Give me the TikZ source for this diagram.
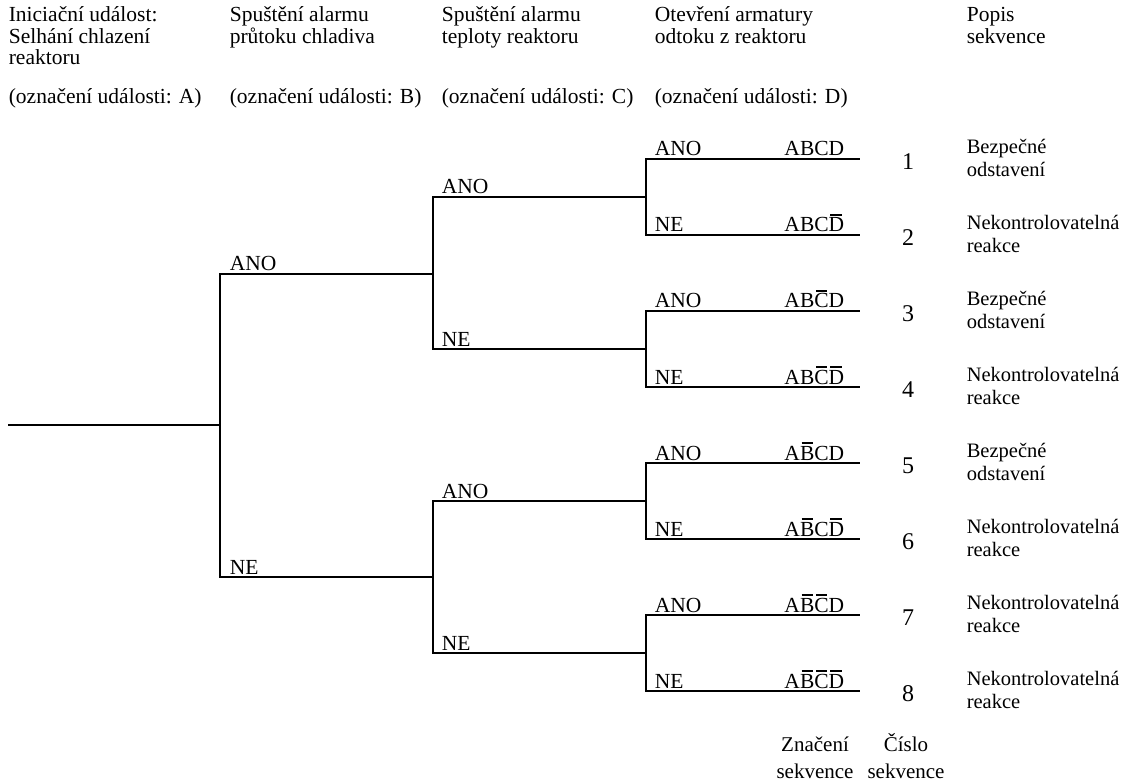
\documentclass[tikz,border=0pt]{standalone}
\usepackage{fontspec}
\setmainfont{Liberation Serif}
\usetikzlibrary{positioning}
\newcommand{\ovl}[1]{\leavevmode\setbox0=\hbox{#1}\rlap{\kern0.08em\rule[0.76em]{\dimexpr\wd0-0.16em\relax}{0.09em}}\box0}

\begin{document}
\begin{tikzpicture}[x=1pt,y=-1pt,line width=1.6pt,
  hdr/.style={anchor=base west,align=left,inner sep=0pt,font=\fontsize{21.5}{21.5}\selectfont},
  br/.style={anchor=base west,inner sep=0pt,font=\fontsize{21.5}{21}\selectfont},
  seq/.style={anchor=base east,inner sep=0pt,font=\fontsize{21.5}{21}\selectfont},
  num/.style={inner sep=0pt,font=\fontsize{24}{24}\selectfont},
  dsc/.style={anchor=west,align=left,inner sep=0pt,font=\fontsize{20.5}{23}\selectfont},
  ftr/.style={anchor=base,align=center,inner sep=0pt,font=\fontsize{21}{27}\selectfont}]
\useasboundingbox (0,0) rectangle (1126,783);
% ================ záhlaví ================
\node[hdr] (hA) at (8,65) {Iniciační událost:\\Selhání chlazení\\reaktoru};
\node[hdr] (hB) at (229,43.5) {Spuštění alarmu\\průtoku chladiva};
\node[hdr] (hC) at (441,43.5) {Spuštění alarmu\\teploty reaktoru};
\node[hdr] (hD) at (654,43.5) {Otevření armatury\\odtoku z reaktoru};
\node[hdr] (hE) at (966,43.5) {Popis\\sekvence};
\node[hdr] (mA) at (8,104) {(označení události: A)};
\node[hdr] (mB) at (229,104) {(označení události: B)};
\node[hdr] (mC) at (441,104) {(označení události: C)};
\node[hdr] (mD) at (654,104) {(označení události: D)};
% ================ strom událostí ================
\coordinate (s0) at (8,425);
\coordinate (k0) at (220,425);
\coordinate (k1) at (433,274);
\coordinate (k2) at (433,577);
\coordinate (k3) at (646,197);
\coordinate (k4) at (646,349);
\coordinate (k5) at (646,501);
\coordinate (k6) at (646,653);
\draw (s0) -- (k0);
\draw (k0) |- (k1);
\draw (k0) |- (k2);
\node[br] (a1) at (229,271) {ANO};
\node[br] (n1) at (229,574) {NE};
\draw (k1) |- (k3);
\draw (k1) |- (k4);
\draw (k2) |- (k5);
\draw (k2) |- (k6);
\node[br] (a2) at (441,194) {ANO};
\node[br] (n2) at (441,346) {NE};
\node[br] (a3) at (441,498) {ANO};
\node[br] (n3) at (441,650) {NE};
% koncové větve: y / číslo / uzel / značení / popis
\foreach \y/\n/\k/\c/\d in {
  159/1/k3/{ABCD}/{Bezpečné\\odstavení},
  235/2/k3/{ABC\ovl{D}}/{Nekontrolovatelná\\reakce},
  311/3/k4/{AB\ovl{C}D}/{Bezpečné\\odstavení},
  387/4/k4/{AB\ovl{C}\ovl{D}}/{Nekontrolovatelná\\reakce},
  463/5/k5/{A\ovl{B}CD}/{Bezpečné\\odstavení},
  539/6/k5/{A\ovl{B}C\ovl{D}}/{Nekontrolovatelná\\reakce},
  615/7/k6/{A\ovl{B}\ovl{C}D}/{Nekontrolovatelná\\reakce},
  691/8/k6/{A\ovl{B}\ovl{C}\ovl{D}}/{Nekontrolovatelná\\reakce}}{
  \coordinate (e\n) at (860,\y);
  \draw (\k) |- (e\n);
  \node[seq] (c\n) at (845,\y-3) {\c};
  \node[num] (q\n) at (908,\y+3) {\n};
  \node[dsc] (p\n) at (966,\y-1) {\d};
}
\foreach \y/\n in {159/1,311/3,463/5,615/7}{\node[br] (ya\n) at (654,\y-3) {ANO};}
\foreach \y/\n in {235/2,387/4,539/6,691/8}{\node[br] (yn\n) at (654,\y-3) {NE};}
% ================ popisky dole ================
\node[ftr] (zn) at (815,778) {Značení\\sekvence};
\node[ftr] (cs) at (906,778) {Číslo\\sekvence};
\end{tikzpicture}
\end{document}
